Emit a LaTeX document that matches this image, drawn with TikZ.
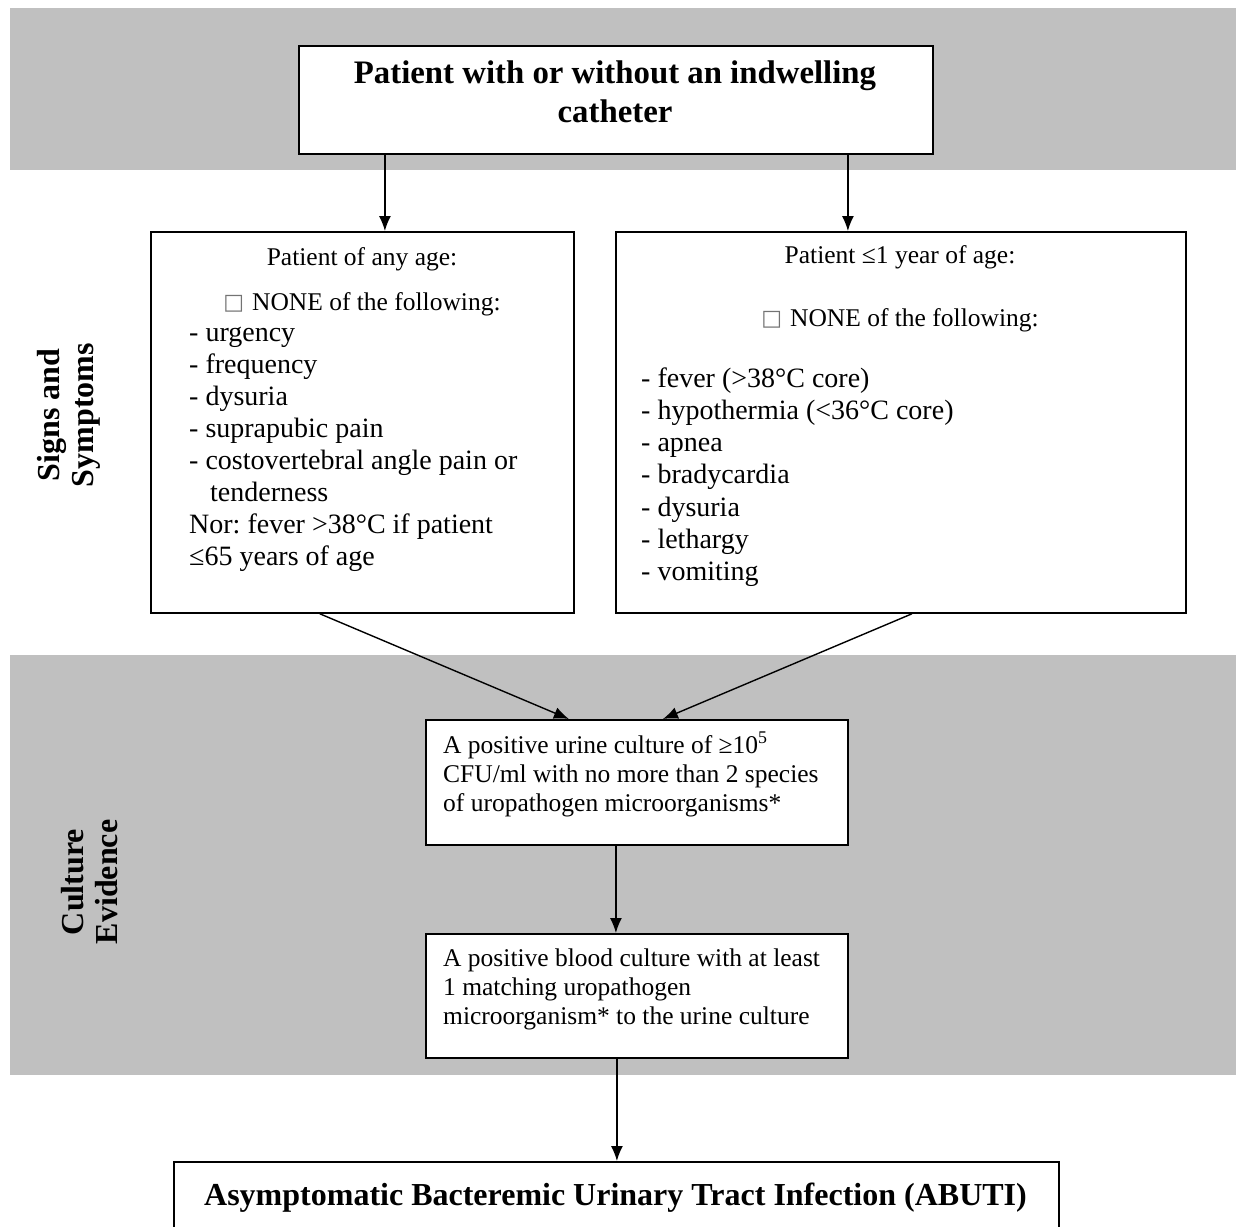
\documentclass[tikz,border=0pt]{standalone}
\usepackage{fontspec}
\setmainfont{Liberation Serif}
\newfontfamily\symfont{DejaVu Sans}
\usetikzlibrary{arrows.meta}
\frenchspacing
\definecolor{bandgray}{RGB}{192,192,192}
\newcommand{\nonebox}{\raisebox{1pt}{\fontsize{22}{22}\selectfont\color{black!55}\symfont □}\hspace{8pt}}
\tikzstyle{line} = [draw, line width=1.4pt, -{Latex[length=15pt,width=12pt]}]
\tikzstyle{block} = [draw, rectangle, line width=1.8pt, fill=white, inner sep=0pt, anchor=north west]
\tikzstyle{item} = [anchor=base west, inner sep=0pt, font=\fontsize{25.5}{32}\selectfont]
\tikzstyle{listitem} = [item, font=\fontsize{28}{32}\selectfont]
\tikzstyle{title} = [anchor=base, inner sep=0pt, font=\fontsize{32}{39}\selectfont\bfseries]
\tikzstyle{side} = [rotate=90, align=center, inner sep=0pt, font=\fontsize{32}{34}\selectfont\bfseries]

\begin{document}
\begin{tikzpicture}[x=1pt, y=-1pt]
        \useasboundingbox (0,0) rectangle (1236,1226);
        \fill[bandgray] (10,8) rectangle (1236,170);
        \fill[bandgray] (10,655) rectangle (1236,1075);
        \node[side] (signs) at (69,415) {Signs and\\Symptoms};
        \node[side] (culture) at (90,882) {Culture\\Evidence};
        % boxes
        \node[block, minimum width=634pt, minimum height=108pt] (origin) at (298,45) {};
        \node[block, minimum width=423pt, minimum height=381pt] (anyage) at (150,231) {};
        \node[block, minimum width=570pt, minimum height=381pt] (infant) at (615,231) {};
        \node[block, minimum width=422pt, minimum height=125pt] (urine) at (425,719) {};
        \node[block, minimum width=422pt, minimum height=124pt] (blood) at (425,933) {};
        \node[block, minimum width=885pt, minimum height=68pt] (abuti) at (173,1161) {};
        % texts
        \node[title, font=\fontsize{32.8}{39}\selectfont\bfseries] (origin-a) at (615,83) {Patient with or without an indwelling};
        \node[title, font=\fontsize{32.8}{39}\selectfont\bfseries] (origin-b) at (615,122) {catheter};
        \node[item, anchor=base] (anyage-head) at (362,265) {Patient of any age:};
        \node[item, anchor=base] (anyage-none) at (362,310) {\nonebox NONE of the following:};
        \foreach \txt [count=\i from 0] in {- urgency, - frequency, - dysuria, - suprapubic pain,
            - costovertebral angle pain or, \hspace{21pt}tenderness, Nor: fever >38°C if patient, ≤65 years of age}
            \node[listitem] (anyage-\i) at (189,{341+32.1*\i}) {\txt};
        \node[item, anchor=base] (infant-head) at (900,263) {Patient ≤1 year of age:};
        \node[item, anchor=base] (infant-none) at (900,326) {\nonebox NONE of the following:};
        \foreach \txt [count=\i from 0] in {- fever (>38°C core), - hypothermia (<36°C core), - apnea,
            - bradycardia, - dysuria, - lethargy, - vomiting}
            \node[listitem] (infant-\i) at (641,{387+32.3*\i}) {\txt};
        \foreach \txt [count=\i from 0] in {A positive urine culture of ≥10\textsuperscript{5},
            CFU/ml with no more than 2 species, of uropathogen microorganisms*}
            \node[item] (urine-\i) at (443,{753+29*\i}) {\txt};
        \foreach \txt [count=\i from 0] in {A positive blood culture with at least,
            1 matching uropathogen, microorganism* to the urine culture}
            \node[item] (blood-\i) at (443,{966+29*\i}) {\txt};
        \node[title] (abuti-text) at (615.5,1205) {Asymptomatic Bacteremic Urinary Tract Infection (ABUTI)};
        % arrows
        \path[line] ([xshift=-231pt]origin.south) -- ([xshift=-231pt]origin.south |- anyage.north);
        \path[line] ([xshift=232pt]origin.south) -- ([xshift=232pt]origin.south |- infant.north);
        \path[line] ([xshift=-42.5pt]anyage.south) -- ([xshift=-68pt]urine.north);
        \path[line] ([xshift=11pt]infant.south) -- ([xshift=26pt]urine.north);
        \path[line] ([xshift=-21pt]urine.south) -- ([xshift=-21pt]urine.south |- blood.north);
        \path[line] ([xshift=-20pt]blood.south) -- ([xshift=-20pt]blood.south |- abuti.north);
\end{tikzpicture}
\end{document}
